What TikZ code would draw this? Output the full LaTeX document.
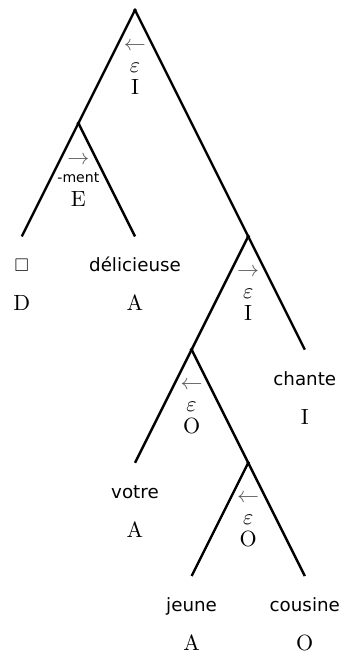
\documentclass[tikz,border=0pt]{standalone}
\usepackage{amssymb}
\usepackage{fontspec}
\setsansfont{DejaVu Sans}
\usetikzlibrary{positioning}
\begin{document}
\begin{tikzpicture}[x=0.904cm,y=0.904cm,
    branch/.style={line width=1.1pt},
    dot/.style={circle,fill,inner sep=0pt,minimum size=1.8pt},
    op/.style={align=center,inner sep=0pt,font=\fontsize{10}{10}\selectfont},
    word/.style={font=\sffamily\fontsize{8.3}{10}\selectfont,inner sep=0pt,text height=7pt,text depth=2pt},
    cat/.style={inner sep=0pt,text height=7pt,text depth=0pt}]
\useasboundingbox (-2.385,0.177) rectangle (3.693,-11.36);
% inner points
\node[dot] (n0) at (0,0) {};
\node[dot] (n1) at (-1,-2) {};
\node[dot] (n2) at (2,-4) {};
\node[dot] (n3) at (1,-6) {};
\node[dot] (n4) at (2,-8) {};
% leaf ends
\coordinate (l1) at (-2,-4);
\coordinate (l2) at (0,-4);
\coordinate (l3) at (3,-6);
\coordinate (l4) at (0,-8);
\coordinate (l5) at (1,-10);
\coordinate (l6) at (3,-10);

\foreach \a/\b in {n0/n1, n0/n2, n1/l1, n1/l2, n2/n3, n2/l3, n3/l4, n3/n4, n4/l5, n4/l6}
   \draw[branch] (\a.center) -- (\b.center);

% operators under the inner points
\node[op] (o0) at (0,-1.03) {{\color{black!65}$\leftarrow$}\\$\varepsilon$\\I};
\node[op] (o1) at (-1,-3.03) {{\color{black!65}$\rightarrow$}\\[-2pt]{\sffamily\fontsize{6.4}{7}\selectfont -ment}\\[1pt]E};
\node[op] (o2) at (2,-5.03) {{\color{black!65}$\rightarrow$}\\$\varepsilon$\\I};
\node[op] (o3) at (1,-7.03) {{\color{black!65}$\leftarrow$}\\$\varepsilon$\\O};
\node[op] (o4) at (2,-9.03) {{\color{black!65}$\leftarrow$}\\$\varepsilon$\\O};

% leaves
\foreach \i/\w/\c in {1/{$\square$}/D, 2/délicieuse/A, 3/chante/I, 4/votre/A, 5/jeune/A, 6/cousine/O}{
   \node[word,below=8.9pt of l\i] (w\i) {\w};
   \node[cat,below=8.3pt of w\i] (c\i) {\c};
}
\end{tikzpicture}
\end{document}
